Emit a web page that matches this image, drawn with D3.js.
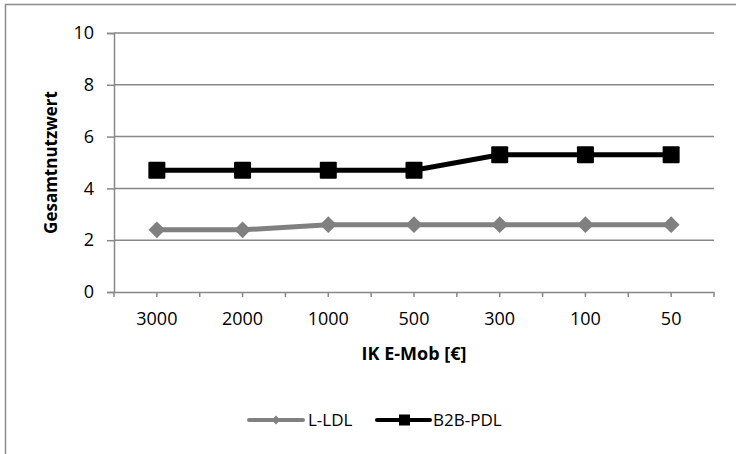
<!DOCTYPE html>
<html>
<head>
<meta charset="utf-8">
<script src="https://cdn.jsdelivr.net/npm/d3@7"></script>
<style>
  body { margin: 0; background: #fff; }
  text { font-family: "Open Sans", sans-serif; fill: #000; }
</style>
</head>
<body>
<div class="chart"></div>
<script>
var wi = 736;
var he = 454;

// data
var categories = ["3000", "2000", "1000", "500", "300", "100", "50"];
var lldl = [2.4, 2.4, 2.6, 2.6, 2.6, 2.6, 2.6];
var b2bpdl = [4.7, 4.7, 4.7, 4.7, 5.3, 5.3, 5.3];
var yTicks = [0, 2, 4, 6, 8, 10];
var seriesNames = ["L-LDL", "B2B-PDL"];

var pLeft = 114, pRight = 714, pTop = 33, pBottom = 292;
var gridColor = "#888888";

var svg = d3.select(".chart").append("svg")
    .attr("width", wi)
    .attr("height", he);

// outer border (right/bottom run off the picture)
svg.append("rect")
    .attr("x", 5.5).attr("y", 4.5)
    .attr("width", wi + 10).attr("height", he + 10)
    .attr("fill", "none")
    .attr("stroke", "#8c8c8c")
    .attr("stroke-width", 1.5);

var xScale = d3.scaleBand()
    .domain(categories)
    .range([pLeft, pRight])
    .paddingInner(0).paddingOuter(0);
var bw = xScale.bandwidth();

var yScale = d3.scaleLinear()
    .domain([0, 10])
    .range([pBottom, pTop]);

// grid lines
svg.append("g").selectAll("line")
    .data(yTicks.filter(function(d) { return d > 0; }))
    .enter().append("line")
    .attr("x1", pLeft).attr("x2", pRight)
    .attr("y1", function(d) { return yScale(d); })
    .attr("y2", function(d) { return yScale(d); })
    .attr("stroke", gridColor)
    .attr("stroke-width", 1.5);

// y axis
var yAxis = d3.axisLeft(yScale)
    .tickValues(yTicks)
    .tickSize(7)
    .tickPadding(13)
    .tickFormat(d3.format("d"));
var gy = svg.append("g")
    .attr("transform", "translate(" + pLeft + ",0)")
    .call(yAxis);
gy.select(".domain").attr("stroke", gridColor).attr("stroke-width", 1.5);
gy.selectAll(".tick line").attr("stroke", gridColor).attr("stroke-width", 1.5);
gy.selectAll(".tick text")
    .style("font-size", "18px")
    .style("font-family", "'Open Sans', sans-serif")
    .attr("fill", "#000");

// x axis (labels at category centres)
var xAxis = d3.axisBottom(xScale)
    .tickSize(5)
    .tickPadding(15)
    .tickSizeOuter(0);
var gx = svg.append("g")
    .attr("transform", "translate(0," + pBottom + ")")
    .call(xAxis);
gx.select(".domain").attr("stroke", gridColor).attr("stroke-width", 1.5);
gx.selectAll(".tick line").attr("stroke", gridColor).attr("stroke-width", 1.5);
gx.selectAll(".tick text")
    .style("font-size", "18px")
    .style("font-family", "'Open Sans', sans-serif")
    .attr("fill", "#000");

// extra ticks at category boundaries
var bounds = categories.map(function(d) { return xScale(d); }).concat([pRight]);
gx.selectAll(".btick")
    .data(bounds)
    .enter().append("line")
    .attr("class", "btick")
    .attr("x1", function(d) { return d; })
    .attr("x2", function(d) { return d; })
    .attr("y1", 0).attr("y2", 5)
    .attr("stroke", gridColor)
    .attr("stroke-width", 1.5);

// axis titles
svg.append("text")
    .attr("transform", "translate(57," + ((pTop + pBottom) / 2) + ") rotate(-90)")
    .attr("text-anchor", "middle")
    .style("font-size", "17px")
    .style("font-weight", "bold")
    .text("Gesamtnutzwert");

svg.append("text")
    .attr("x", (pLeft + pRight) / 2)
    .attr("y", 360)
    .attr("text-anchor", "middle")
    .style("font-size", "18px")
    .style("font-weight", "bold")
    .text("IK E-Mob [€]");

var cx = function(d, i) { return xScale(categories[i]) + bw / 2; };
var line = d3.line()
    .x(function(d, i) { return cx(d, i); })
    .y(function(d) { return yScale(d); });

// L-LDL
svg.append("path")
    .datum(lldl)
    .attr("d", line)
    .attr("fill", "none")
    .attr("stroke", "#808080")
    .attr("stroke-width", 5);
svg.append("g").selectAll("path")
    .data(lldl)
    .enter().append("path")
    .attr("d", d3.symbol().type(d3.symbolDiamond2).size(180))
    .attr("transform", function(d, i) { return "translate(" + cx(d, i) + "," + yScale(d) + ")"; })
    .attr("fill", "#808080");

// B2B-PDL
svg.append("path")
    .datum(b2bpdl)
    .attr("d", line)
    .attr("fill", "none")
    .attr("stroke", "#000")
    .attr("stroke-width", 5);
svg.append("g").selectAll("rect")
    .data(b2bpdl)
    .enter().append("rect")
    .attr("x", function(d, i) { return cx(d, i) - 8.5; })
    .attr("y", function(d) { return yScale(d) - 8.5; })
    .attr("width", 17).attr("height", 17)
    .attr("rx", 1)
    .attr("fill", "#000");

// legend
var legend = svg.append("g").attr("transform", "translate(0,420)");
var lg1 = legend.append("g").attr("transform", "translate(249,0)");
lg1.append("line").attr("x1", 0).attr("x2", 54).attr("y1", 0).attr("y2", 0)
    .attr("stroke", "#808080").attr("stroke-width", 4).attr("stroke-linecap", "round");
lg1.append("path").attr("d", d3.symbol().type(d3.symbolDiamond2).size(50))
    .attr("transform", "translate(27,0)").attr("fill", "#808080");
lg1.append("text").attr("x", 59).attr("y", 6).style("font-size", "17px").text(seriesNames[0]);

var lg2 = legend.append("g").attr("transform", "translate(377,0)");
lg2.append("line").attr("x1", 0).attr("x2", 53).attr("y1", 0).attr("y2", 0)
    .attr("stroke", "#000").attr("stroke-width", 4).attr("stroke-linecap", "round");
lg2.append("rect").attr("x", 22).attr("y", -5.5).attr("width", 11).attr("height", 11).attr("fill", "#000");
lg2.append("text").attr("x", 56).attr("y", 6).style("font-size", "17px").text(seriesNames[1]);
</script>
</body>
</html>
